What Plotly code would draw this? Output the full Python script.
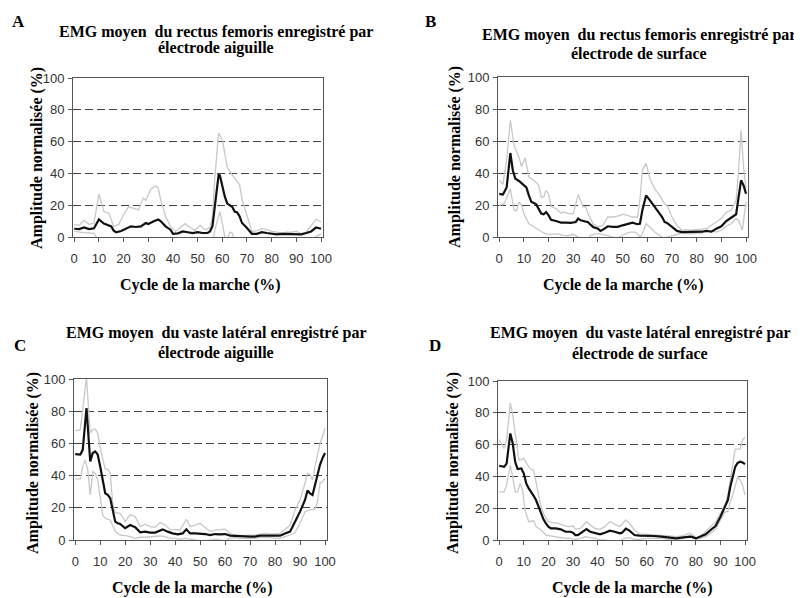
import plotly.graph_objects as go

# ---------------- data ----------------
A_mean_x = [0,2,4,6,8,10,12,14,15,16,17,19,21,23,25,27,29,30,32,34,35,37,39,40,42,44,46,48,50,52,54,55,56,57,58.5,59,60,61,62,64,65,66,67,68,70,72,74,76,78,80,82,84,86,88,90,92,94,96,98,100]
A_mean_y = [5.2,5,6,5,5.5,11,8.4,7.3,6.7,4,3,3.8,5,6.7,6.3,6.7,8.8,8.2,9.8,11,10,6.7,4.6,2,2.3,3.5,3,2.5,3,2.5,2.5,3.5,6.7,21,39,38.8,32,25.5,21,19,16,15.5,13,8.8,5.7,2,2,3,2.5,2,1.7,2,2,2,2,1.7,2.5,3.5,6,5.2]
A_up_x = [0,2,4,6,8,10,12,14,15,16,18,20,22,24,26,28,29,31,33,34,35,37,39,41,43,45,47,49,51,53,55,56,57,58.5,60,61,62,64,66,67,68,70,72,74,76,78,80,82,84,86,88,90,92,94,96,98,100]
A_up_y = [8,7.3,10.5,8,8.8,27,16,15,11,6.7,7.8,14,19,18,17,24.5,23,30,32,31,23.5,13,6.7,3.5,5.7,8.4,6,4.2,7.3,4.6,5.7,13,38,65.4,61,52,44,39,35,33,23.5,13,3.5,4,5.2,4.6,3.5,3,2.5,3,3,3.5,2,3,7,11.3,9.4]
A_lo_x = [0,2,4,6,8,9,10,14,20,30,40,50,55,56,56.5,57,59,60,61,62,63,64,65,70,80,90,97,98,100]
A_lo_y = [3.5,3,2.7,2.5,2.3,0,-3,-4,-6,-10,-4,-4,-3,-1,0,4.6,16,8.8,0.4,-2,3,2.5,-2,-8,-3,-3,-1,0.4,2]

B_mean_x = [0,1.5,3,4.5,5.5,6.5,8,10,11,12,13,15,16,17,18,19,20,21,23,25,27,29,31,32,33,35,36,37,38,40,41,42,44,46,48,50,52,54,56,57,58,59.5,61,63,65,66,67,68,70,72,74,76,78,80,82,84,86,88,90,92,94,96,97,98,99,100]
B_mean_y = [27,26.5,31,52.5,41.7,36.5,35,32,31,26,22,20.4,17.7,14.6,14.2,15.6,13.5,10.8,10,9,9,8.8,9.4,11.5,10.4,9.4,9.2,7.7,6.3,5.2,3.8,4.6,6.7,6.3,6.3,7.3,8.3,9,8,8.3,16.7,26,23,18.8,14.6,12.5,9.4,8.8,6.3,3.8,3.1,3.1,3.1,3.1,3.3,3.8,3.3,5.2,6.7,10,11.9,14.2,25,35.4,32.3,27]
B_up_x = [0,1.5,3,4.5,6,8,9,10.5,12,14,16,17,18,19,20,21,23,25,26,28,30,32,34,35,36,38,40,42,44,46,48,50,52,54,56,57,58,59.5,61,63,65,67,68,70,72,74,76,78,80,82,84,86,88,90,92,94,96,97,98,99,100]
B_up_y = [35.4,33,48,73,57,50,44,49.6,37.5,35.4,32.3,25,25,29,27,19,17.7,15,15.6,14.6,14.6,26.5,18.8,19,14.6,8.3,6.3,7.3,12.5,12.5,13,14.2,13.5,12.5,12.5,23,41.7,46,36.5,30,26,20.8,19.8,12.5,7.3,4.2,4.6,4.2,4.6,4.8,5.2,7.3,9.4,11.5,15.6,16.7,23,41.7,66.7,43.8,30]
B_lo_x = [0,2,4.5,6,7,8,9,10,12,14,16,18,20,22,24,26,28,30,32,34,36,37,39,41,43,45,47,49,51,53,55,56,57,58,59.5,61,63,65,66.5,68,70,72,74,76,78,80,82,84,86,88,90,92,94,96,97,98.5,100]
B_lo_y = [19.8,20.8,30,16.7,16.3,22,19.8,14.6,8.3,6.3,4.2,2.5,1.7,2,2,1,0.8,1.7,0,-2,-1,1,2,2,1.2,0.6,-0.5,0,2,3.1,3.1,2,0,2,8.3,6.3,3.1,1,-1,0,0.8,1.7,2.5,2,2,2.5,2.5,3.8,3.8,3.1,4.2,6.7,8.3,11.5,10.4,4.2,22]

C_mean_x = [0,2,3,4.5,6,7,8,9,10,11,12,13,14,15,16,17,18,20,21,22,24,26,28,30,32,34,35,37,39,41,43,44.5,46,48,50,52,54,56,58,60,62,64,66,68,70,72,74,76,78,80,82,84,86,88,90,92,93,94,95,96,97,98,99,100]
C_mean_y = [53.3,53,56,82,48.8,54,55,53,45.6,37.3,29,28,26,18.7,11.4,10.4,10,7.3,8.3,9.3,7.9,4.8,5.2,4.6,4.6,6.2,6.6,5.2,4.1,3.5,4.1,6.6,4.1,4.1,4.1,3.7,3.1,3.7,3.5,3.7,2.7,2.5,2.1,2.1,2.1,2.1,2.7,2.7,2.7,2.7,2.7,4.1,5.2,11.4,17.6,24.9,30.7,29,28,34.2,41.5,46.7,50.8,54]
C_up_x = [0,2,3,4.5,6,7,8,9,10,12,13,14,15,16,18,20,22,24,26,28,30,32,34,36,38,40,42,44.5,46,48,50,52,54,56,58,60,62,64,66,68,70,72,74,76,78,80,82,84,86,88,90,92,93,94,95,96,97,98,99,100]
C_up_y = [67.8,68.5,81,101,66.4,68.5,69,66.4,57,44,44,41.5,22.8,17,16.6,11.4,15.6,14.5,8.3,9.8,8.3,7.9,10.8,9.3,6.6,6.2,6.2,12.9,8.3,9.3,10.4,7.7,5.2,6.2,6.6,6.8,4.1,3.1,2.7,2.7,3.1,3.1,3.7,4.1,3.7,3.7,4.1,6.6,9.3,18.7,24.9,35.3,41.5,40.5,37.3,45.6,54,60,64.3,69.5]
C_lo_x = [0,2,3,4,5,6,7,8,9,10,11,12,14,16,18,20,22,24,26,28,30,32,34,36,38,40,42,44,46,48,50,52,54,56,58,60,62,64,66,68,70,72,74,76,78,80,82,84,86,88,90,92,94,96,97,98,99,100]
C_lo_y = [38,38,45.6,49.8,43.6,28,42.5,41.5,37.3,24.9,15.6,13.5,12.4,5.2,3.1,2.7,2.1,1,1.7,1.7,2.1,2.1,2.5,2.1,1,1,0.4,1,0.4,0,-0.4,-0.4,0,0.4,0,-0.4,1,1.5,1,1,1,1,1.5,1.5,1.5,1,1,2.1,3.1,4.6,10.4,17.6,18.7,19.1,23.9,35.3,36.3,38.4]

D_mean_x = [0,2,3,4.5,5.5,6.5,7.5,9,10,11,12,13,14,15,16,17,18,19,20,21,23,25,27,29,30,31,32,33,35.5,37,39,41,43,45,47,49,50,51.5,53,55,57,60,63,66,69,72,75,78,80,82,84,86,88,90,92,93,94,95,96,97,98,99,100]
D_mean_y = [46.7,46,48,67,60.7,49,44.6,45,41.8,35.6,32.4,30.3,27.8,25,20.9,16.7,13,10.5,8.4,7.3,7.3,6.7,5.2,5.2,4.6,3.1,3.1,4.2,6.9,5.2,4.2,3.6,4.6,5.9,5.2,4.2,4.6,7.1,5.9,3.1,2.7,2.7,2.5,2.1,1.7,1,1.7,2.1,1,2.1,3.6,6.3,8.8,14.6,20.9,25,33.5,39.7,46,48.5,49.2,48.7,47.7]
D_up_x = [0,2,3,4.5,5.5,6.5,8,9,10,12,13,14,15,16,17,18,20,22,24,26,28,30,31,33,35.5,37,39,41,43,45,47,49,51.5,53,55,57,60,63,66,69,72,75,77,79,80,82,84,86,88,90,92,93,94,95,96,97,98,99,100]
D_up_y = [63.2,57.5,62.8,86.2,78.5,67,50.2,50.6,51.3,46,44.4,43.9,35.6,27.2,20.9,16.7,11.5,10.9,10.5,9.4,8.4,8.8,6.7,7.3,11.5,9.4,7.3,6.7,8.4,11.5,10,8.4,12.6,10.5,6.3,3.8,3.6,3.1,2.7,2.5,2.1,2.7,4.2,3.1,1,2.7,5.2,8.4,11.5,16.7,23,28.2,37.7,46,57.1,57.1,57.1,62.8,64.9]
D_lo_x = [0,2,3,4.5,5.5,6.5,7.5,8.5,9.5,10.5,12,14,15,17,19,21,23,25,27,29,31,33,35,37,39,41,43,45,47,49,51,53,55,57,60,63,66,69,72,75,77,79,80,82,84,86,88,90,92,93,94,95,96,97,98,99,100]
D_lo_y = [30.3,30.3,34.5,47,39.7,30.3,30.3,35.6,31.4,18.8,11.5,12.1,8.4,6.3,3.1,2.5,2.1,1.7,1,1,0.4,1,2.1,1.5,1,0,0,-0.5,-0.5,-0.5,1,1.5,0.4,0.4,1,1,1,0.4,0.4,0.8,2.5,2.1,0.4,1,2.1,4.2,6.7,12.6,17.8,17.8,24,28.2,33.5,39.7,37.7,34.5,28.2]

letters = ["A", "B", "C", "D"]
titles_l1 = ["EMG moyen  du rectus femoris enregistré par",
             "EMG moyen  du rectus femoris enregistré par",
             "EMG moyen  du vaste latéral enregistré par",
             "EMG moyen  du vaste latéral enregistré par"]
titles_l2 = ["électrode aiguille", "électrode de surface",
             "électrode aiguille", "électrode de surface"]
x_title = "Cycle de la marche (%)"
y_title = "Amplitude normalisée (%)"
x_ticks = list(range(0, 101, 10))
y_ticks = list(range(0, 101, 20))

panels = [
    (A_mean_x, A_mean_y, A_up_x, A_up_y, A_lo_x, A_lo_y),
    (B_mean_x, B_mean_y, B_up_x, B_up_y, B_lo_x, B_lo_y),
    (C_mean_x, C_mean_y, C_up_x, C_up_y, C_lo_x, C_lo_y),
    (D_mean_x, D_mean_y, D_up_x, D_up_y, D_lo_x, D_lo_y),
]
for p in panels:
    assert len(p[0]) == len(p[1]) and len(p[2]) == len(p[3]) and len(p[4]) == len(p[5])

# ---------------- layout geometry (window pixels) ----------------
OFF = 8                      # page body margin around the plot div
W, H = 802 - OFF, 598 - OFF  # figure size so it fits the window exactly
# plot boxes: left, right, top, bottom
boxes = [(73, 323, 78, 237), (498, 748, 77, 237), (74, 327, 379, 540), (498, 747, 381, 540)]
title_pos = [(216, 32, 48), (639, 35, 53), (216, 333, 353), (640, 333, 353)]
letter_pos = [(18, 22), (430, 22), (20, 345), (435, 345)]
ytitle_pos = [(37, 158), (455, 157), (33, 463), (453, 463)]
xtitle_pos = [(200, 285), (623, 285), (192, 588), (632, 588)]

def px(x):
    return (x - OFF) / W

def py(y):
    return 1 - (y - OFF) / H

fig = go.Figure()
GRAY = "#c8c8c8"
serif = "Liberation Serif"
sans = "Liberation Sans"

layout = dict(width=W, height=H,
              margin=dict(l=0, r=0, t=0, b=0, pad=0, autoexpand=False),
              paper_bgcolor="white", plot_bgcolor="white", showlegend=False)

annotations = []
for i, p in enumerate(panels):
    n = "" if i == 0 else str(i + 1)
    xa, ya = "x" + n, "y" + n
    mx, my, ux, uy, lx, ly = p
    for xs, ys in ((ux, uy), (lx, ly)):
        fig.add_trace(go.Scatter(x=xs, y=ys, mode="lines", xaxis=xa, yaxis=ya,
                                 line=dict(color=GRAY, width=1.3), hoverinfo="skip"))
    fig.add_trace(go.Scatter(x=mx, y=my, mode="lines", xaxis=xa, yaxis=ya,
                             line=dict(color="#111111", width=2.2)))
    l, r, t, b = boxes[i]
    layout["xaxis" + n] = dict(domain=[px(l), px(r)], range=[-0.5, 100.8], anchor=ya,
                               tickvals=x_ticks, ticks="outside", ticklen=4, tickcolor="#555",
                               showline=True, linecolor="#555", linewidth=1, mirror=True,
                               showgrid=False, zeroline=False, ticklabelstandoff=5,
                               automargin=False,
                               tickfont=dict(family=sans, size=13, color="#333"))
    layout["yaxis" + n] = dict(domain=[py(b), py(t)], range=[0, 100], anchor=xa,
                               tickvals=y_ticks, ticks="outside", ticklen=4, tickcolor="#555",
                               showline=True, linecolor="#555", linewidth=1, mirror=True,
                               showgrid=True, gridcolor="#444", gridwidth=1, griddash="8px,4px",
                               zeroline=False, ticklabelstandoff=1, automargin=False,
                               tickfont=dict(family=sans, size=13, color="#333"))
    tx, ty1, ty2 = title_pos[i]
    bold = dict(family=serif, size=16, color="black", weight="bold")
    annotations.append(dict(text=titles_l1[i], x=px(tx), y=py(ty1), xref="paper", yref="paper",
                            showarrow=False, xanchor="center", yanchor="middle", font=bold))
    annotations.append(dict(text=titles_l2[i], x=px(tx), y=py(ty2), xref="paper", yref="paper",
                            showarrow=False, xanchor="center", yanchor="middle", font=bold))
    lx_, ly_ = letter_pos[i]
    annotations.append(dict(text=letters[i], x=px(lx_), y=py(ly_), xref="paper", yref="paper",
                            showarrow=False, xanchor="center", yanchor="middle",
                            font=dict(family=serif, size=17, color="black", weight="bold")))
    yx, yy = ytitle_pos[i]
    annotations.append(dict(text=y_title, x=px(yx), y=py(yy), xref="paper", yref="paper",
                            showarrow=False, xanchor="center", yanchor="middle", textangle=-90,
                            font=bold))
    xx, xy = xtitle_pos[i]
    annotations.append(dict(text=x_title, x=px(xx), y=py(xy), xref="paper", yref="paper",
                            showarrow=False, xanchor="center", yanchor="middle", font=bold))

layout["annotations"] = annotations
fig.update_layout(**layout)
fig.write_html("out.html")
